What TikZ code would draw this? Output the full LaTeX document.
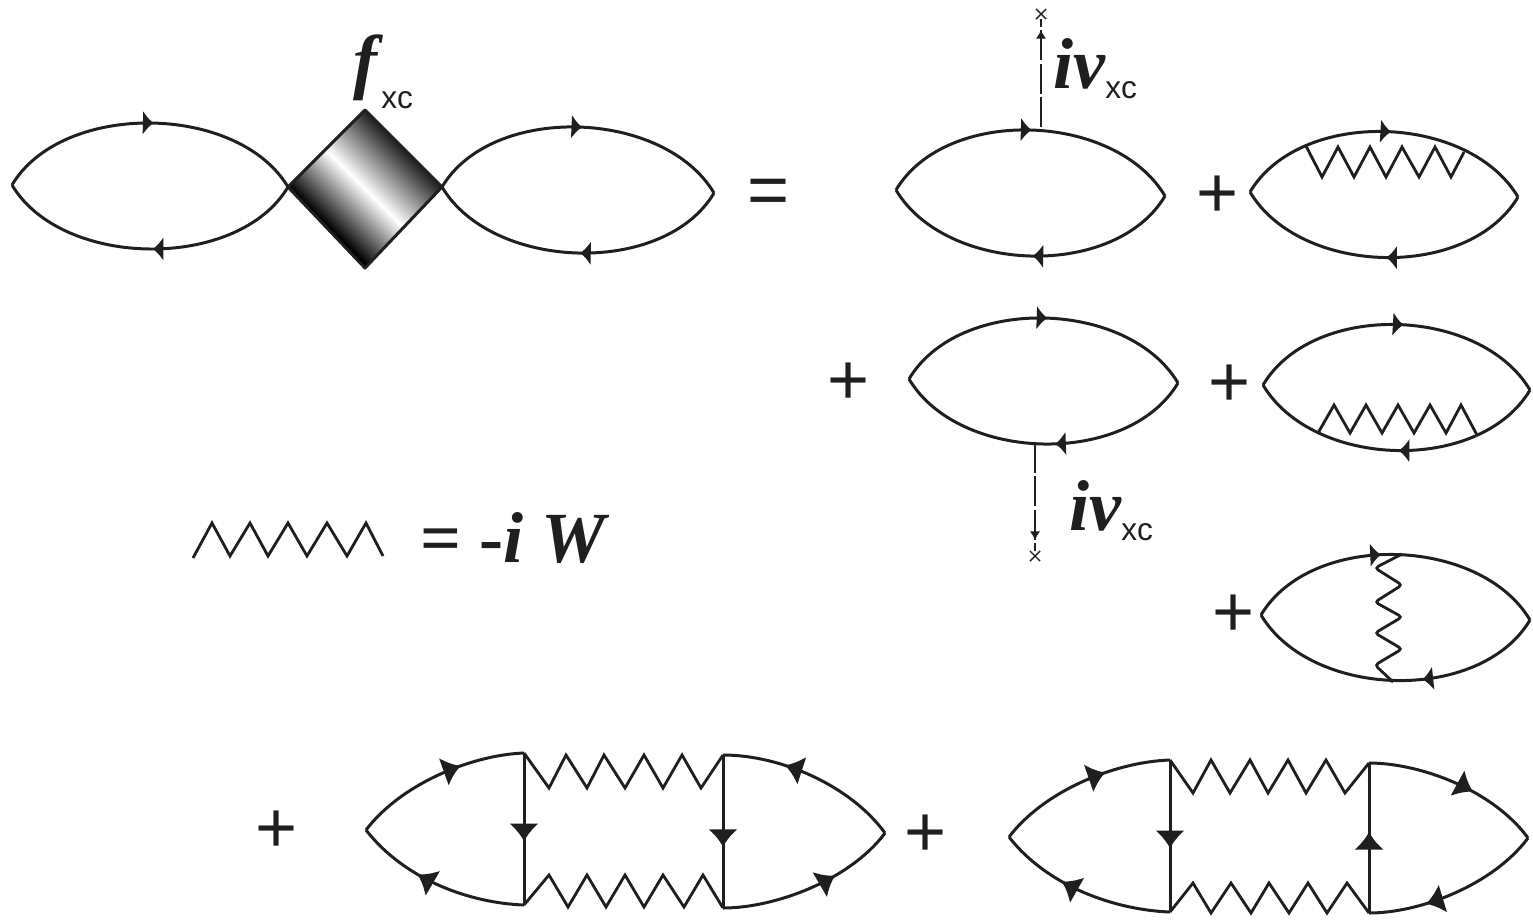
\documentclass[tikz,border=0pt]{standalone}
\usepackage{fontspec}
\setmainfont{Liberation Serif}
\setsansfont{Liberation Sans}
\usetikzlibrary{
  arrows.meta,
  decorations.markings,
  shapes.misc
}
\definecolor{ink}{HTML}{1f1f1f}
\definecolor{diamdark}{HTML}{2a2a2a}
\pgfdeclareverticalshading{diamband}{100bp}{
  color(0bp)=(black); color(33bp)=(black); color(50bp)=(white);
  color(67bp)=(diamdark); color(100bp)=(diamdark)}
\tikzset{
  every node/.style={text=ink, inner sep=0pt},
  bigsym/.style={font=\fontsize{41}{48}\selectfont\bfseries\itshape, anchor=base west},
  opsym/.style={font=\sffamily\fontsize{41}{48}\selectfont, anchor=center, yshift=-2pt},
  subsym/.style={font=\sffamily\fontsize{18}{22}\selectfont, anchor=base west},
  prop/.style={draw=ink, line width=1.7pt, line join=round},
  zig/.style={draw=ink, line width=1.6pt, line join=miter},
  tipat/.style={postaction={decorate}, decoration={markings,
    mark=at position #1 with {\arrow{Latex[length=6pt,width=14pt]}}}},
  bigtipat/.style={postaction={decorate}, decoration={markings,
    mark=at position #1 with {\arrow{Latex[length=10pt,width=17pt]}}}},
  xcline/.style={draw=ink, line width=1.3pt, dash pattern=on 17pt off 2pt,
    postaction={decorate}, decoration={markings,
    mark=at position 0.9 with {\arrow[solid]{Latex[length=5pt,width=6pt]}}}},
  xcend/.style={draw=ink, line width=0.8pt, shape=cross out, minimum size=5pt},
}

\begin{document}
\begin{tikzpicture}[x=0.02cm, y=-0.02cm]
  \useasboundingbox (0,0) rectangle (1533,920);

  % =====================================================================
  % TOP LEFT — kernel between two bubbles
  % =====================================================================
  \coordinate (Al) at (12,185);
  \coordinate (Ar) at (288,187);
  \draw[prop, tipat=0.51] (Al) .. controls +(50,-84) and +(-50,-84) .. (Ar);
  \draw[prop, tipat=0.49] (Ar) .. controls +(-50,84) and +(50,84) .. (Al);

  \coordinate (Bl) at (442,187);
  \coordinate (Br) at (714,193);
  \draw[prop, tipat=0.51] (Bl) .. controls +(50,-84) and +(-50,-84) .. (Br);
  \draw[prop, tipat=0.49] (Br) .. controls +(-50,84) and +(50,84) .. (Bl);

  \coordinate (Dt) at (365,110);
  \coordinate (Db) at (365,268);
  % gradient band runs along the long diagonal
  \path[shading=diamband, shading angle=-45]
    (Dt) -- (Bl) -- (Db) -- (Ar) -- cycle;
  \draw[prop] (Dt) -- (Bl) -- (Db) -- (Ar) -- cycle;

  \node[bigsym] (flabel) at (353,85) {f};
  \node[subsym] (fsub) at (381,108) {xc};

  \node[opsym] (eqtop) at (769,193) {=};

  % =====================================================================
  % RIGHT COLUMN — first order bubbles
  % =====================================================================
  \coordinate (Cl) at (896,190);
  \coordinate (Cr) at (1165,196);
  \coordinate (Cv) at (1041,127);
  \draw[prop, tipat=0.50] (Cl) .. controls +(50,-84) and +(-50,-84) .. (Cr);
  \draw[prop, tipat=0.49] (Cr) .. controls +(-50,84) and +(50,84) .. (Cl);
  \node[xcend] (Cx) at (1041,14) {};
  \draw[xcline] (Cv) -- (Cx);
  \node[bigsym] (Ciota) at (1053,88) {iv};
  \node[subsym] (Csub) at (1105,98) {xc};

  \coordinate (El) at (1250,192);
  \coordinate (Er) at (1518,197);
  \draw[prop, tipat=0.52] (El) .. controls +(50,-84) and +(-50,-84) .. (Er);
  \draw[prop, tipat=0.49] (Er) .. controls +(-50,84) and +(50,84) .. (El);
  \draw[zig] (1306,146) -- (1322,177) -- (1338,147) -- (1354,177) -- (1370,147)
    -- (1386,177) -- (1402,147) -- (1419,177) -- (1435,147) -- (1451,177) -- (1464,152);
  \node[opsym] (plusE) at (1218,193) {+};

  \coordinate (Fl) at (909,379);
  \coordinate (Fr) at (1178,383);
  \coordinate (Fv) at (1035,443);
  \draw[prop, tipat=0.51] (Fl) .. controls +(50,-84) and +(-50,-84) .. (Fr);
  \draw[prop, tipat=0.46] (Fr) .. controls +(-50,84) and +(50,84) .. (Fl);
  \node[xcend] (Fx) at (1035,556) {};
  \draw[xcline] (Fv) -- (Fx);
  \node[bigsym] (Fiota) at (1069,530) {iv};
  \node[subsym] (Fsub) at (1121,540) {xc};
  \node[opsym] (plusF) at (849,380) {+};

  \coordinate (Gl) at (1263,385);
  \coordinate (Gr) at (1530,390);
  \draw[prop, tipat=0.52] (Gl) .. controls +(50,-84) and +(-50,-84) .. (Gr);
  \draw[prop, tipat=0.49] (Gr) .. controls +(-50,84) and +(50,84) .. (Gl);
  \draw[zig] (1318,433) -- (1334,405) -- (1350,433) -- (1366,405) -- (1382,433)
    -- (1398,405) -- (1414,433) -- (1430,405) -- (1446,433) -- (1461,405) -- (1477,435);
  \node[opsym] (plusG) at (1230,382) {+};

  \coordinate (Hl) at (1261,615);
  \coordinate (Hr) at (1530,620);
  \draw[prop, tipat=0.45] (Hl) .. controls +(50,-84) and +(-50,-84) .. (Hr);
  \draw[prop, tipat=0.41] (Hr) .. controls +(-50,84) and +(50,84) .. (Hl);
  \draw[zig, rounded corners=2pt] (1402,554) -- (1375,568) -- (1402,585) -- (1375,602)
    -- (1402,617) -- (1375,633) -- (1402,649) -- (1375,665) -- (1393,682);
  \node[opsym] (plusH) at (1234,612) {+};

  % =====================================================================
  % LEGEND — screened interaction
  % =====================================================================
  \draw[zig] (193,558) -- (212,523) -- (230,556) -- (250,523) -- (268,556) -- (288,523)
    -- (307,556) -- (327,523) -- (347,556) -- (366,523) -- (383,556);
  \node[bigsym] (legend) at (420,562) {{\upshape= -}i W};

  % =====================================================================
  % BOTTOM ROW — ladder diagrams
  % =====================================================================
  \coordinate (Pl) at (366,830);
  \coordinate (Pr) at (885,833);
  \coordinate (Pat) at (524,753);
  \coordinate (Pab) at (524,905);
  \coordinate (Pbt) at (723,755);
  \coordinate (Pbb) at (723,908);
  \draw[prop, bigtipat=0.64] (Pl) .. controls (400,785) and (470,755) .. (Pat);
  \draw[prop, bigtipat=0.62] (Pab) .. controls (470,903) and (405,880) .. (Pl);
  \draw[prop, bigtipat=0.66] (Pr) .. controls (850,785) and (780,755) .. (Pbt);
  \draw[prop, bigtipat=0.64] (Pbb) .. controls (775,908) and (850,880) .. (Pr);
  \draw[prop, bigtipat=0.58] (Pat) -- (Pab);
  \draw[prop, bigtipat=0.60] (Pbt) -- (Pbb);
  \draw[zig] (Pat) -- (549,788) -- (566,755) -- (587,788) -- (604,755) -- (625,788)
    -- (644,755) -- (663,788) -- (682,755) -- (701,788) -- (Pbt);
  \draw[zig] (Pab) -- (549,875) -- (568,907) -- (587,875) -- (606,907) -- (625,875)
    -- (644,907) -- (663,875) -- (684,907) -- (703,875) -- (Pbb);
  \node[opsym] (plusP) at (277,828) {+};

  \coordinate (Ql) at (1009,837);
  \coordinate (Qr) at (1528,838);
  \coordinate (Qat) at (1170,760);
  \coordinate (Qab) at (1170,912);
  \coordinate (Qbt) at (1369,763);
  \coordinate (Qbb) at (1369,913);
  \draw[prop, bigtipat=0.64] (Ql) .. controls (1043,792) and (1113,762) .. (Qat);
  \draw[prop, bigtipat=0.62] (Qab) .. controls (1116,910) and (1048,887) .. (Ql);
  \draw[prop, bigtipat=0.60] (Qbt) .. controls (1420,763) and (1493,790) .. (Qr);
  \draw[prop, bigtipat=0.68] (Qr) .. controls (1493,885) and (1420,913) .. (Qbb);
  \draw[prop, bigtipat=0.58] (Qat) -- (Qab);
  \draw[prop, bigtipat=0.54] (Qbb) -- (Qbt);
  \draw[zig] (Qat) -- (1193,793) -- (1211,760) -- (1230,793) -- (1250,760) -- (1268,793)
    -- (1288,760) -- (1306,793) -- (1326,760) -- (1345,793) -- (Qbt);
  \draw[zig] (Qab) -- (1193,883) -- (1211,913) -- (1231,883) -- (1251,913) -- (1269,883)
    -- (1289,913) -- (1308,883) -- (1327,913) -- (1347,883) -- (Qbb);
  \node[opsym] (plusQ) at (926,832) {+};

\end{tikzpicture}
\end{document}
